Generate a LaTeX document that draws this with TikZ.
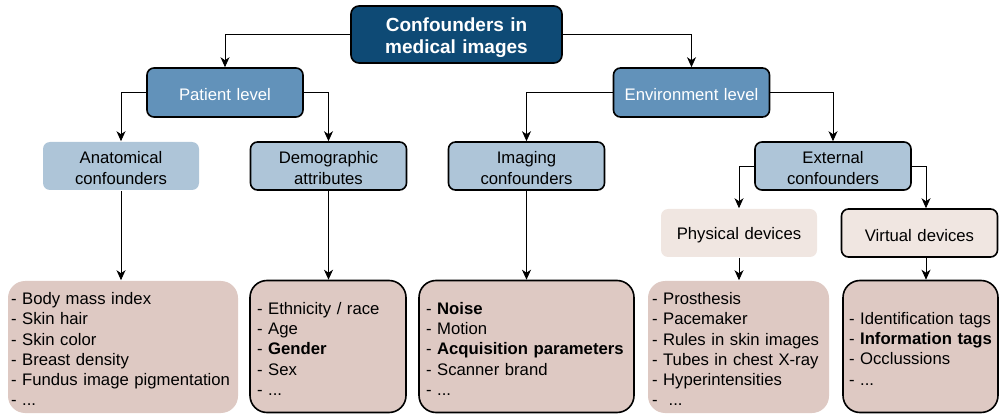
\documentclass[tikz,border=0pt]{standalone}
\usepackage{fontspec}
\setmainfont{Liberation Sans}
\usetikzlibrary{arrows.meta}

\definecolor{rootblue}{RGB}{14,74,117}
\definecolor{levelblue}{RGB}{98,146,186}
\definecolor{midblue}{RGB}{174,197,216}
\definecolor{listrose}{RGB}{222,201,195}
\definecolor{lightrose}{RGB}{240,230,225}

\begin{document}
\begin{tikzpicture}[x=1pt,y=-1pt,
	box/.style={rounded corners=7pt, line width=1.6pt, align=center, inner ysep=0pt, inner xsep=3pt,
		text width=150pt, font=\fontsize{16.7}{20.4}\selectfont,
		execute at begin node=\rule{0pt}{16.5pt}},
	rootbox/.style={box, draw=black, fill=rootblue, text=white, rounded corners=8pt, text width=205pt,
		font=\fontsize{19}{22.5}\selectfont\bfseries, execute at begin node=\rule{0pt}{20pt},
		minimum width=211pt, minimum height=57pt},
	levelbox/.style={box, draw=black, fill=levelblue, text=white, minimum width=156pt, minimum height=49pt},
	midbox/.style={box, fill=midblue, minimum width=156pt, minimum height=48pt},
	devbox/.style={box, fill=lightrose, minimum width=156pt, minimum height=48pt},
	listbox/.style={box, fill=listrose, rounded corners=17pt, align=left, minimum height=132pt,
		font=\fontsize{16.7}{20.3}\selectfont,
		execute at begin node={\hyphenpenalty=10000\relax\rule{0pt}{12pt}}},
	conn/.style={line width=0.9pt, -{Stealth[length=10pt,width=9pt,inset=3pt]}}]
\useasboundingbox (0,0) rectangle (999,414);
% top levels
\node[rootbox] (root) at (456.5,34.5) {Confounders in\\medical images};
\node[levelbox] (patient) at (225,92.5) {Patient level};
\node[levelbox] (environment) at (691.5,92.5) {Environment level};
%
\node[midbox] (anatomical) at (121,166) {Anatomical\\confounders};
\node[midbox, draw=black] (demographic) at (328.5,166) {Demographic\\attributes};
\node[midbox, draw=black] (imaging) at (526.5,166) {Imaging\\confounders};
\node[midbox, draw=black] (external) at (833,166) {External\\confounders};
%
\node[devbox] (physical) at (739,233) {Physical devices};
\node[devbox, draw=black] (virtual) at (919.5,233) {Virtual devices};
% lists
\node[listbox, text width=224pt, inner xsep=3pt] (anatlist) at (123,347)
	{- Body mass index\\- Skin hair\\- Skin color\\- Breast density\\- Fundus image pigmentation\\- ...};
\node[listbox, draw=black, text width=142pt, inner xsep=7pt] (demolist) at (328,346.5)
	{- Ethnicity / race\\- Age\\- \textbf{Gender}\\- Sex\\- ...};
\node[listbox, draw=black, text width=201pt, inner xsep=7pt] (imaglist) at (526.5,346.5)
	{- \textbf{Noise}\\- Motion\\- \textbf{Acquisition parameters}\\- Scanner brand\\- ...};
\node[listbox, text width=173pt, inner xsep=4pt] (physlist) at (738.5,347)
	{- Prosthesis\\- Pacemaker\\- Rules in skin images\\- Tubes in chest X-ray\\- Hyperintensities\\-\ \ ...};
\node[listbox, draw=black, text width=143pt, inner xsep=6pt] (virtlist) at (920.5,346.5)
	{- Identification tags\\- \textbf{Information tags}\\- Occlussions\\- ...};
% connectors
\draw[conn] (root.west) -| (patient.north);
\draw[conn] (root.east) -| (environment.north);
\draw[conn] (patient.west) -| (anatomical.north);
\draw[conn] (patient.east) -| (demographic.north);
\draw[conn] (environment.west) -| (imaging.north);
\draw[conn] (environment.east) -| (external.north);
\draw[conn] (external.west) -| (physical.north);
\draw[conn] (external.east) -| ([xshift=6.5pt]virtual.north);
%
\draw[conn] (anatomical.south) -- (anatlist.north -| anatomical.south);
\draw[conn] (demographic.south) -- (demolist.north -| demographic.south);
\draw[conn] (imaging.south) -- (imaglist.north -| imaging.south);
\draw[conn] (physical.south) -- (physlist.north -| physical.south);
\draw[conn] ([xshift=6.5pt]virtual.south) -- ([xshift=6.5pt]virtual.south |- virtlist.north);
\end{tikzpicture}
\end{document}
